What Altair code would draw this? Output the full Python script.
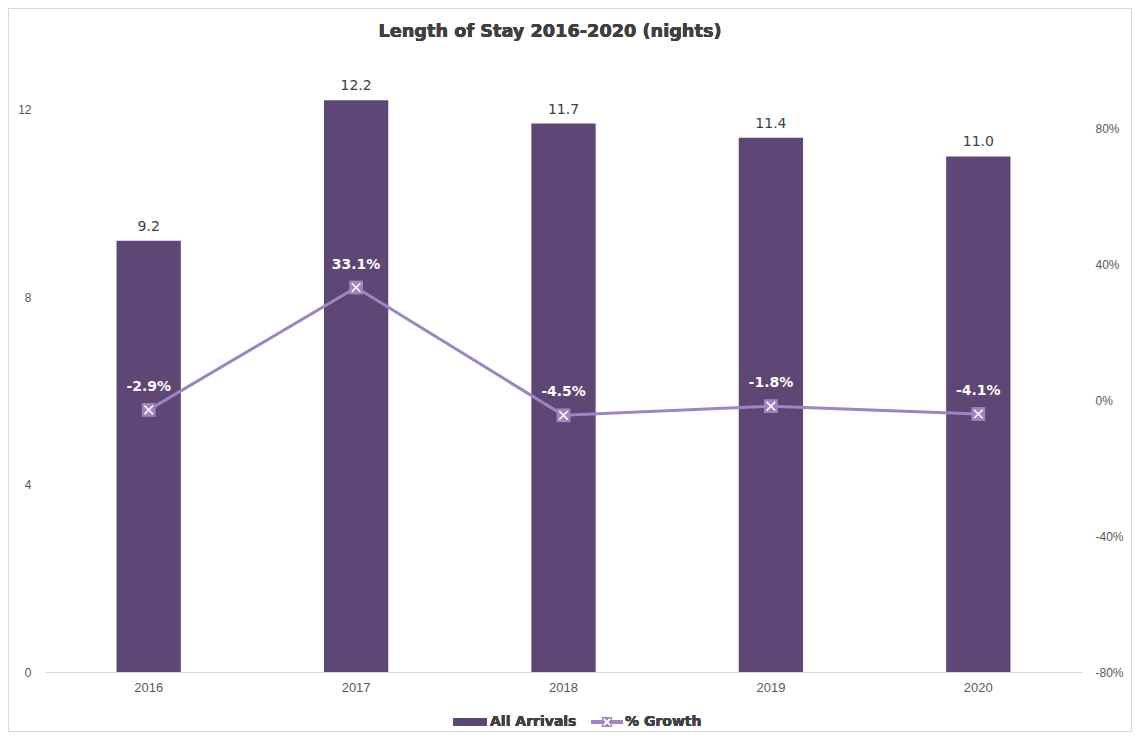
import altair as alt
import pandas as pd

years = ["2016", "2017", "2018", "2019", "2020"]
nights = [9.2, 12.2, 11.7, 11.4, 11.0]
growth = [-0.029, 0.331, -0.045, -0.018, -0.041]
left_ticks = [0, 4, 8, 12]
right_ticks = [-0.8, -0.4, 0, 0.4, 0.8]
title_text = "Length of Stay 2016-2020 (nights)"

df = pd.DataFrame({"year": years, "nights": nights, "growth": growth})

W, H = 1037, 582
BAR = "#5e4675"
LINE = "#9d86c0"
TXT = "#404040"
AX = "#595959"

x_enc = alt.X("year:N", sort=years, title=None,
              scale=alt.Scale(paddingInner=0.69, paddingOuter=0.345),
              axis=alt.Axis(labelAngle=0, ticks=False, domain=True, domainColor="#d9d9d9",
                            labelColor=AX, labelFont="Liberation Sans", labelFontSize=13,
                            labelPadding=9, grid=False))

y_left = alt.Y("nights:Q", title=None,
               scale=alt.Scale(domain=[0, 12.416], nice=False, zero=True),
               axis=alt.Axis(values=left_ticks, ticks=False, domain=False, grid=False,
                             labelColor=AX, labelFont="Liberation Sans", labelFontSize=12,
                             labelPadding=14))

base = alt.Chart(df).transform_calculate(
    glabel="replace(format(datum.growth, '.1%'), '\u2212', '-')"
)

bars = base.mark_bar(color=BAR).encode(x=x_enc, y=y_left)
bar_labels = base.mark_text(dy=-14, font="DejaVu Sans", fontSize=14, color=TXT).encode(
    x=alt.X("year:N", sort=years), y=alt.Y("nights:Q"), text=alt.Text("nights:Q", format=".1f"))

# border and title
border = alt.Chart(df).mark_rect(fill="transparent", stroke="#d9d9d9", strokeWidth=1).encode(
    x=alt.value(-36.5), x2=alt.value(W + 49.5), y=alt.value(-81.5), y2=alt.value(H + 59.5))
title = alt.Chart(df).mark_text(font="DejaVu Sans", fontSize=17.7, fontWeight="bold", color=TXT,
                                baseline="middle", align="center", text=title_text).encode(
    x=alt.value(505), y=alt.value(-58))

left_group = alt.layer(border, title, bars, bar_labels)

y_right_scale = alt.Scale(domain=[-0.8, 0.912], nice=False, zero=False)
y_right = alt.Y("growth:Q", title=None, scale=y_right_scale,
                axis=alt.Axis(orient="right", values=right_ticks,
                              labelExpr="replace(format(datum.value, '.0%'), '\u2212', '-')",
                              ticks=False, domain=False, grid=False, labelColor=AX,
                              labelFont="Liberation Sans", labelFontSize=12, labelPadding=13))

line = base.mark_line(color=LINE, strokeWidth=3).encode(
    x=alt.X("year:N", sort=years), y=y_right)
pts = base.mark_point(shape="square", filled=True, size=190, color=LINE, opacity=1).encode(
    x=alt.X("year:N", sort=years), y=alt.Y("growth:Q"))
xmark = base.mark_point(shape="M-0.7,-0.7L0.7,0.7M0.7,-0.7L-0.7,0.7", filled=False, size=150,
                        stroke="white", strokeWidth=1.5, opacity=1).encode(
    x=alt.X("year:N", sort=years), y=alt.Y("growth:Q"))
line_labels = base.mark_text(dy=-23, font="DejaVu Sans", fontSize=14, fontWeight="bold",
                             color="white").encode(
    x=alt.X("year:N", sort=years), y=alt.Y("growth:Q"), text=alt.Text("glabel:N"))

# legend
leg_y = H + 50
leg_bar = alt.Chart(df).mark_rect(color=BAR).encode(
    x=alt.value(453 - 45), x2=alt.value(487 - 45), y=alt.value(leg_y - 4), y2=alt.value(leg_y + 4))
leg_t1 = alt.Chart(df).mark_text(align="left", baseline="middle", font="DejaVu Sans",
                                 fontSize=14, fontWeight="bold", color=TXT, text="All Arrivals").encode(
    x=alt.value(490 - 45), y=alt.value(leg_y))
leg_line = alt.Chart(df).mark_rule(color=LINE, strokeWidth=3).encode(
    x=alt.value(591 - 45), x2=alt.value(623 - 45), y=alt.value(leg_y))
leg_pt = alt.Chart(df).mark_point(shape="square", filled=True, size=100, color=LINE, opacity=1).encode(
    x=alt.value(607 - 45), y=alt.value(leg_y))
leg_x = alt.Chart(df).mark_point(shape="M-0.7,-0.7L0.7,0.7M0.7,-0.7L-0.7,0.7", filled=False,
                                 size=80, stroke="white", strokeWidth=1.3, opacity=1).encode(
    x=alt.value(607 - 45), y=alt.value(leg_y))
leg_t2 = alt.Chart(df).mark_text(align="left", baseline="middle", font="DejaVu Sans",
                                 fontSize=14, fontWeight="bold", color=TXT, text="% Growth").encode(
    x=alt.value(625 - 45), y=alt.value(leg_y))

right_group = alt.layer(line, pts, xmark, line_labels, leg_bar, leg_t1, leg_line, leg_pt, leg_x, leg_t2)

chart = alt.layer(left_group, right_group).resolve_scale(y="independent").properties(
    width=W, height=H,
    autosize=alt.AutoSizeParams(type="none"),
    padding={"left": 37, "top": 82, "right": 50, "bottom": 60},
).configure(background="white").configure_view(strokeWidth=0, stroke="transparent")

chart.save("out.html", embed_options={"renderer": "svg", "actions": False})
